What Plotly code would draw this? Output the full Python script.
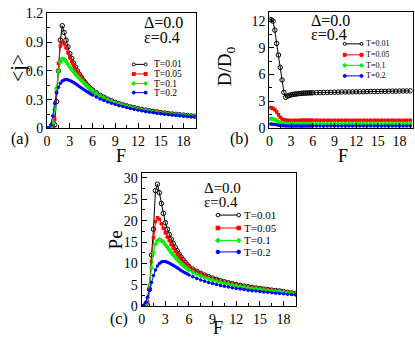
import plotly.graph_objects as go

W, H = 415, 346

# ---------------- data ----------------
F = [0.0, 0.25, 0.5, 0.75, 1.0, 1.25, 1.5, 1.75, 2.0, 2.25, 2.5, 2.75, 3.0, 3.25, 3.5, 3.75,
     4.0, 4.25, 4.5, 4.75, 5.0, 5.25, 5.5, 5.75, 6.0, 6.5, 7.0, 7.5, 8.0, 8.5, 9.0, 9.5,
     10.0, 10.5, 11.0, 11.5, 12.0, 12.5, 13.0, 13.5, 14.0, 14.5, 15.0, 15.5, 16.0, 16.5,
     17.0, 17.5, 18.0, 18.5, 19.0, 19.5]

series_names = ["T=0.01", "T=0.05", "T=0.1", "T=0.2"]

# panel (a): <j>
j_T001 = [0, 0, 0, 0.005, 0.04, 0.28, 0.6, 0.92, 1.07, 1.0, 0.92, 0.85, 0.78, 0.73, 0.68,
          0.64, 0.6, 0.565, 0.535, 0.505, 0.48, 0.455, 0.435, 0.415, 0.40,
          0.37, 0.345, 0.325, 0.305, 0.288, 0.272, 0.258, 0.246, 0.235, 0.224, 0.215, 0.206,
          0.198, 0.191, 0.184, 0.178, 0.172, 0.166, 0.161, 0.156, 0.151, 0.147, 0.143, 0.139,
          0.135, 0.131, 0.128]
j_T005 = [0, 0, 0, 0.01, 0.1, 0.38, 0.68, 0.86, 0.90, 0.88, 0.84, 0.79, 0.74, 0.70, 0.66,
          0.62, 0.585, 0.553, 0.525, 0.5, 0.475, 0.452, 0.432, 0.413, 0.396,
          0.366, 0.341, 0.321, 0.302, 0.285, 0.27, 0.256, 0.244, 0.233, 0.222, 0.213, 0.204,
          0.196, 0.189, 0.182, 0.176, 0.17, 0.165, 0.16, 0.155, 0.15, 0.146, 0.142, 0.138,
          0.134, 0.13, 0.127]
j_T01 = [0, 0, 0.01, 0.06, 0.2, 0.42, 0.6, 0.69, 0.725, 0.72, 0.70, 0.67, 0.64, 0.615, 0.59,
         0.567, 0.545, 0.523, 0.502, 0.482, 0.463, 0.444, 0.427, 0.41, 0.393,
         0.363, 0.338, 0.317, 0.298, 0.282, 0.267, 0.253, 0.241, 0.23, 0.22, 0.211, 0.202,
         0.194, 0.187, 0.18, 0.174, 0.168, 0.163, 0.158, 0.153, 0.149, 0.144, 0.14, 0.136,
         0.133, 0.129, 0.126]
j_T02 = [0, 0.005, 0.04, 0.13, 0.26, 0.37, 0.43, 0.47, 0.495, 0.505, 0.51, 0.508, 0.50, 0.49,
         0.478, 0.465, 0.452, 0.438, 0.424, 0.41, 0.397, 0.384, 0.372, 0.36, 0.348,
         0.327, 0.307, 0.291, 0.276, 0.262, 0.25, 0.238, 0.228, 0.218, 0.209, 0.2, 0.192,
         0.185, 0.178, 0.172, 0.166, 0.16, 0.155, 0.15, 0.146, 0.142, 0.138, 0.134, 0.13,
         0.127, 0.124, 0.121]

# panel (b): D/D0
D_T001 = [12.2, 12.15, 12.0, 11.0, 9.5, 8.2, 6.8, 5.4, 4.0, 3.45, 3.58, 3.66, 3.72, 3.77, 3.8,
          3.83, 3.86, 3.88, 3.9, 3.91, 3.92, 3.93, 3.94, 3.95, 3.96,
          3.97, 3.98, 3.99, 4.0, 4.01, 4.02, 4.03, 4.04, 4.05, 4.05, 4.06, 4.07, 4.07, 4.08,
          4.09, 4.1, 4.1, 4.11, 4.12, 4.12, 4.13, 4.14, 4.14, 4.15, 4.16, 4.16, 4.17]
D_T005 = [2.3, 2.28, 2.2, 2.05, 1.8, 1.5, 1.22, 1.02, 0.92, 0.88, 0.86, 0.85, 0.85, 0.85, 0.85,
          0.85, 0.85, 0.86, 0.86, 0.86, 0.86, 0.86, 0.86, 0.86, 0.86,
          0.86, 0.86, 0.86, 0.86, 0.86, 0.86, 0.87, 0.87, 0.87, 0.87, 0.87, 0.87, 0.87, 0.87,
          0.87, 0.87, 0.87, 0.87, 0.88, 0.88, 0.88, 0.88, 0.88, 0.88, 0.88, 0.88, 0.88]
D_T01 = [1.05, 1.04, 1.0, 0.92, 0.82, 0.7, 0.6, 0.53, 0.5, 0.49, 0.48, 0.48, 0.48, 0.48, 0.48,
         0.48, 0.48, 0.48, 0.48, 0.48, 0.48, 0.48, 0.48, 0.48, 0.48,
         0.48, 0.48, 0.48, 0.48, 0.48, 0.48, 0.48, 0.48, 0.49, 0.49, 0.49, 0.49, 0.49, 0.49,
         0.49, 0.49, 0.49, 0.49, 0.49, 0.49, 0.49, 0.49, 0.49, 0.49, 0.49, 0.49, 0.49]
D_T02 = [0.45, 0.45, 0.43, 0.4, 0.36, 0.32, 0.29, 0.26, 0.25, 0.24, 0.24, 0.24, 0.24, 0.24, 0.24,
         0.24, 0.24, 0.24, 0.24, 0.24, 0.24, 0.24, 0.24, 0.24, 0.24,
         0.24, 0.24, 0.24, 0.24, 0.24, 0.24, 0.24, 0.24, 0.24, 0.24, 0.24, 0.24, 0.24, 0.24,
         0.24, 0.24, 0.24, 0.24, 0.24, 0.24, 0.24, 0.24, 0.24, 0.24, 0.24, 0.24, 0.24]

# panel (c): Pe
P_T001 = [0, 0, 0, 0.3, 4.0, 12.0, 18.0, 27.0, 28.5, 26.5, 24.0, 21.7, 19.5, 18.0, 16.8,
          15.7, 14.7, 13.8, 13.0, 12.2, 11.5, 10.9, 10.3, 9.8, 9.3,
          8.7, 8.2, 7.7, 7.3, 6.95, 6.6, 6.3, 6.0, 5.75, 5.5, 5.3, 5.1, 4.9, 4.75, 4.6, 4.45,
          4.3, 4.2, 4.05, 3.95, 3.8, 3.7, 3.6, 3.45, 3.3, 3.15, 3.0]
P_T005 = [0, 0, 0.1, 0.8, 4.5, 10.5, 16.0, 19.8, 20.7, 20.3, 19.3, 18.2, 17.2, 16.2, 15.3,
          14.4, 13.6, 12.9, 12.2, 11.6, 11.0, 10.5, 10.0, 9.6, 9.2,
          8.5, 8.0, 7.55, 7.15, 6.8, 6.5, 6.2, 5.9, 5.65, 5.42, 5.22, 5.02, 4.83, 4.67, 4.52,
          4.37, 4.23, 4.12, 3.98, 3.88, 3.75, 3.65, 3.55, 3.4, 3.25, 3.1, 2.98]
P_T01 = [0, 0.1, 0.5, 2.0, 5.0, 9.0, 12.5, 14.5, 15.3, 15.6, 15.4, 15.0, 14.4, 13.8, 13.2,
         12.6, 12.0, 11.5, 11.0, 10.5, 10.0, 9.6, 9.2, 8.85, 8.5,
         7.95, 7.5, 7.1, 6.75, 6.45, 6.15, 5.9, 5.65, 5.4, 5.2, 5.0, 4.82, 4.65, 4.5, 4.35,
         4.22, 4.1, 3.98, 3.86, 3.76, 3.65, 3.56, 3.46, 3.33, 3.2, 3.07, 2.95]
P_T02 = [0, 0.3, 1.0, 2.2, 3.8, 5.6, 7.2, 8.5, 9.4, 10.0, 10.35, 10.5, 10.45, 10.3, 10.1,
         9.85, 9.6, 9.3, 9.0, 8.7, 8.4, 8.1, 7.85, 7.6, 7.35,
         6.9, 6.5, 6.15, 5.85, 5.57, 5.32, 5.1, 4.9, 4.7, 4.52, 4.36, 4.2, 4.06, 3.93, 3.8,
         3.68, 3.57, 3.47, 3.37, 3.28, 3.19, 3.1, 3.02, 2.94, 2.86, 2.78, 2.7]

x_ticks = [0, 3, 6, 9, 12, 15, 18]

# ---------------- styling ----------------
colors = ["#000000", "#ff0000", "#00ee00", "#0000ff"]
symbols = ["circle-open", "square", "diamond", "circle"]
msizes = [4.5, 3.5, 4, 3.5]
FONT = "Liberation Serif"


def px(x):
    return x / W


def py(y):
    return 1 - y / H


fig = go.Figure()

panels = [
    ("x", "y", [j_T001, j_T005, j_T01, j_T02]),
    ("x2", "y2", [D_T001, D_T005, D_T01, D_T02]),
    ("x3", "y3", [P_T001, P_T005, P_T01, P_T02]),
]
for xa, ya, ser in panels:
    for k, vals in enumerate(ser):
        fig.add_trace(go.Scatter(
            x=F, y=vals, xaxis=xa, yaxis=ya, mode="lines+markers",
            name=series_names[k], showlegend=False,
            line=dict(color=colors[k], width=1),
            marker=dict(symbol=symbols[k], size=msizes[k], color=colors[k],
                        line=dict(color=colors[k], width=1 if k == 0 else 0)),
        ))


def xaxis(dom, rmax):
    return dict(domain=dom, range=[0, rmax], tickvals=x_ticks, ticks="inside", ticklen=5,
                tickwidth=1, tickcolor="black", showline=True, linecolor="black",
                linewidth=1, mirror=True, showgrid=False, zeroline=False,
                tickfont=dict(family=FONT, size=14, color="black"),
                minor=dict(dtick=1.5, tick0=0, ticks="inside", ticklen=3,
                           tickcolor="black", showgrid=False))


def yaxis(dom, rng, dt, anchor):
    return dict(domain=dom, range=rng, dtick=dt, tick0=0, ticks="inside", ticklen=5,
                tickwidth=1, tickcolor="black", showline=True, linecolor="black",
                linewidth=1, mirror=True, showgrid=False, zeroline=False, anchor=anchor,
                tickfont=dict(family=FONT, size=14, color="black"),
                minor=dict(dtick=dt / 2, tick0=0, ticks="inside", ticklen=3,
                           tickcolor="black", showgrid=False))


xa = xaxis([px(43.5), px(193.5)], 19.6); xa["anchor"] = "y"
xb = xaxis([px(268), px(412.5)], 19.8); xb["anchor"] = "y2"
xc = xaxis([px(139), px(295)], 19.6); xc["anchor"] = "y3"
ya_ = yaxis([py(127), py(6.5)], [0, 1.2], 0.3, "x")
yb_ = yaxis([py(126.5), py(5.5)], [0, 13], 3, "x2")
yc_ = yaxis([py(313), py(174)], [0, 31], 5, "x3")
ya_["tickvals"] = [0, 0.3, 0.6, 0.9, 1.2]
ya_["ticktext"] = ["0", "0.3", "0.6", "0.9", "1.2"]

annotations = []
shapes = []


def text(x, y, s, size, angle=0, xanchor="center"):
    annotations.append(dict(x=px(x), y=py(y), xref="paper", yref="paper", text=s,
                            showarrow=False, textangle=angle, xanchor=xanchor,
                            yanchor="middle",
                            font=dict(family=FONT, size=size, color="black")))


# axis titles and panel labels
text(118, 155.5, "F", 18)
text(342, 155.5, "F", 18)
text(216, 336, "F", 18)
text(14, 64, "&lt;j&gt;", 20, angle=-90)
text(224, 62, "D/D<sub>0</sub>", 19, angle=-90)
text(113, 243, "Pe", 19, angle=-90)
text(16, 138, "(a)", 16)
text(238, 138, "(b)", 16)
text(116, 326, "(c)", 16)

# parameter labels
for (x0, y1, y2, fs) in [(139, 16.5, 31.5, 16), (308, 14.5, 29, 16), (200, 189.5, 204, 15)]:
    text(x0, y1, "Δ=0.0", fs, xanchor="left")
    text(x0, y2, "ε=0.4", fs, xanchor="left")


# hand-drawn legends
def marker_shape(x, y, k, r):
    base = dict(xref="paper", yref="paper", xsizemode="pixel", ysizemode="pixel",
                xanchor=px(x), yanchor=py(y), line=dict(color=colors[k], width=1))
    if k == 0:
        shapes.append(dict(type="circle", x0=-r, x1=r, y0=-r, y1=r,
                           fillcolor="white", **base))
    elif k == 1:
        shapes.append(dict(type="rect", x0=-r, x1=r, y0=-r, y1=r,
                           fillcolor=colors[k], **base))
    elif k == 2:
        shapes.append(dict(type="path", path=f"M {-r-0.5} 0 L 0 {r+0.5} L {r+0.5} 0 L 0 {-r-0.5} Z",
                           fillcolor=colors[k], **base))
    else:
        shapes.append(dict(type="circle", x0=-r, x1=r, y0=-r, y1=r,
                           fillcolor=colors[k], **base))


legends = [
    (131, 143, 149, [60, 70, 80, 89.5], 9.5, 1.5),
    (344, 361, 364, [38.5, 50, 61, 72], 8, 1.5),
    (216, 237, 240, [217.5, 231, 244, 256], 11, 1.8),
]
for lx0, lx1, tx, rows, fs, r in legends:
    for k, yy in enumerate(rows):
        shapes.append(dict(type="line", xref="paper", yref="paper", x0=px(lx0), x1=px(lx1),
                           y0=py(yy), y1=py(yy), line=dict(color=colors[k], width=1)))
        marker_shape(lx0, yy, k, r)
        marker_shape(lx1, yy, k, r)
        text(tx, yy, series_names[k], fs, xanchor="left")

fig.update_layout(
    width=W, height=H, margin=dict(l=0, r=0, t=0, b=0),
    paper_bgcolor="white", plot_bgcolor="white", showlegend=False,
    xaxis=xa, xaxis2=xb, xaxis3=xc, yaxis=ya_, yaxis2=yb_, yaxis3=yc_,
    annotations=annotations, shapes=shapes,
    font=dict(family=FONT, color="black"),
)

fig.write_html("out.html", config={"displayModeBar": False},
               post_script="document.body.style.margin='0';document.body.style.overflow='hidden';")
